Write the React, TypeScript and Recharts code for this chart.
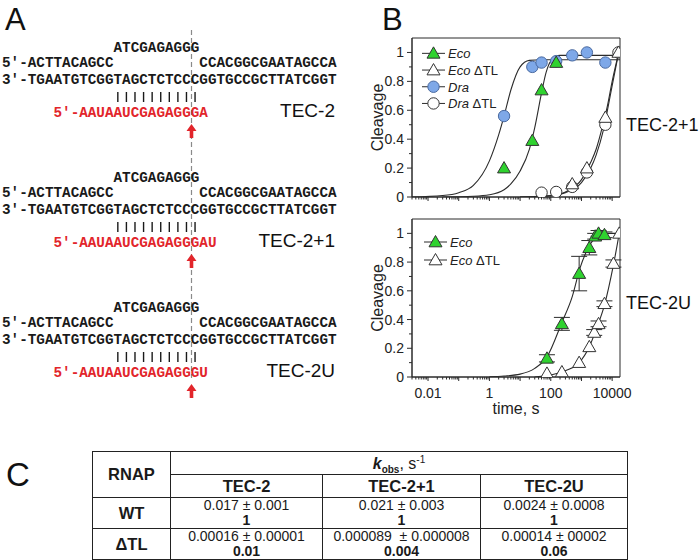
import React from 'react';
import { ComposedChart, Line, Scatter, XAxis, YAxis, ZAxis, ReferenceArea, ErrorBar, Legend } from 'recharts';

const FONT = '"Liberation Sans", Arial, Helvetica, sans-serif';
const MONO = '"Liberation Mono", "DejaVu Sans Mono", monospace';
const RED = '#e2252b';
const INK = '#2b2b2b';

// ---------- panel A: sequences ----------
const loopSeq = 'ATCGAGAGGG';
const ntLeft = '5′-ACTTACAGCC';
const ntRight = 'CCACGGCGAATAGCCA';
const tStrand = '3′-TGAATGTCGGTAGCTCTCCCGGTGCCGCTTATCGGT';
const rnaSeqs = ['5′-AAUAAUCGAGAGGGA', '5′-AAUAAUCGAGAGGGAU', '5′-AAUAAUCGAGAGGGU'];
const tecNames = ['TEC-2', 'TEC-2+1', 'TEC-2U'];

// ---------- panel B: TEC-2+1 ----------
const ecoT21 = [3, 25, 50, 150];
const ecoY21 = [0.2, 0.39, 0.74, 0.93];
const ecoTLT21 = [500, 1500, 6000, 16000];
const ecoTLY21 = [0.09, 0.2, 0.55, 1.0];
const draT21 = [3, 25, 50, 150, 500, 1500, 6000];
const draY21 = [0.56, 0.9, 0.93, 0.94, 0.98, 1.0, 0.93];
const draTLT21 = [50, 150, 500, 1500, 6000, 16000];
const draTLY21 = [0.03, 0.035, 0.07, 0.17, 0.5, 1.0];

const draFitT21 = [0.003, 0.03, 0.1, 0.3, 1, 2, 3, 5, 10, 20, 50, 18000];
const draFitY21 = [0, 0.01, 0.03, 0.08, 0.25, 0.43, 0.56, 0.74, 0.9, 0.945, 0.95, 0.95];
const ecoFitT21 = [0.03, 0.3, 1, 3, 5, 10, 20, 30, 50, 70, 100, 200, 18000];
const ecoFitY21 = [0, 0.005, 0.015, 0.05, 0.09, 0.18, 0.33, 0.48, 0.72, 0.86, 0.94, 0.98, 0.98];
const tlFitT21 = [10, 100, 300, 1000, 2000, 3000, 5000, 7000, 10000, 16000];
const ecoTLFitY21 = [0, 0.01, 0.035, 0.12, 0.24, 0.33, 0.5, 0.63, 0.8, 0.99];
const draTLFitY21 = [0, 0.008, 0.03, 0.1, 0.2, 0.29, 0.45, 0.6, 0.77, 0.99];

// ---------- panel B: TEC-2U ----------
const ecoT2U = [75, 230, 840, 1800, 2800, 3600, 5600];
const ecoY2U = [0.13, 0.37, 0.72, 0.9, 0.98, 1.0, 0.99];
const ecoE2U = [0.025, 0.045, 0.12, 0.05, 0.02, 0.02, 0.02];
const ecoTLT2U = [75, 230, 840, 1800, 2600, 3600, 5600, 11000, 17000];
const ecoTLY2U = [0.025, 0.035, 0.1, 0.21, 0.31, 0.37, 0.51, 0.79, 1.0];
const ecoTLE2U = [0, 0, 0, 0, 0.02, 0.02, 0.02, 0.025, 0];

const ecoFitT2U = [1, 3, 10, 30, 75, 230, 500, 900, 1500, 2000, 3000, 6000, 18000];
const ecoFitY2U = [0.002, 0.007, 0.02, 0.06, 0.14, 0.38, 0.56, 0.76, 0.88, 0.93, 0.975, 1.0, 1.0];
const ecoTLFitT2U = [30, 75, 230, 840, 1800, 3000, 5600, 11000, 17000];
const ecoTLFitY2U = [0, 0.01, 0.035, 0.1, 0.21, 0.33, 0.5, 0.78, 1.0];

// ---------- panel C ----------
const tableRows = ['WT', 'ΔTL'];
const kWT = ['0.017 ± 0.001', '0.021 ± 0.003', '0.0024 ± 0.0008'];
const relWT = ['1', '1', '1'];
const kTL = ['0.00016 ± 0.00001', '0.000089  ± 0.000008', '0.00014 ± 00002'];
const relTL = ['0.01', '0.004', '0.06'];

// axis ticks
const xDomain = [0.003, 18000];
const xLabelTicks = [0.01, 1, 100, 10000];
const xLabelText = ['0.01', '1', '100', '10000'];
const xTicks: number[] = [];
for (let d = -3; d <= 4; d++) {
  for (let m = 1; m <= 9; m++) {
    const v = +(m * Math.pow(10, d)).toPrecision(6);
    if (v >= xDomain[0] && v <= xDomain[1]) xTicks.push(v);
  }
}
const yTicks = [0, 0.1, 0.2, 0.3, 0.4, 0.5, 0.6, 0.7, 0.8, 0.9, 1.0];
const yLabelTicks = [0, 0.2, 0.4, 0.6, 0.8, 1.0];
const yLabelText = ['0', '0.2', '0.4', '0.6', '0.8', '1'];

const zip = (t: number[], y: number[], e?: number[]) =>
  t.map((v, i) => ({ t: v, y: y[i], e: e ? e[i] : 0 }));

const XTick = (p: any) => {
  const v = p.payload.value;
  const lg = Math.log10(v);
  const decade = Math.abs(lg - Math.round(lg)) < 1e-6;
  const li = xLabelTicks.findIndex((s) => Math.abs(s - v) / s < 1e-6);
  return (
    <g>
      <line x1={p.x} x2={p.x} y1={p.y} y2={p.y + (decade ? 4 : 2.5)} stroke={INK} strokeWidth={1} />
      {p.showLabel && li >= 0 && (
        <text x={p.x} y={p.y + 16} textAnchor="middle" dominantBaseline="central" fontSize={14} fontFamily={FONT} fill="#222">
          {xLabelText[li]}
        </text>
      )}
    </g>
  );
};

const YTick = (p: any) => {
  const v = p.payload.value;
  const li = yLabelTicks.findIndex((s) => Math.abs(s - v) < 1e-6);
  return (
    <g>
      <line x1={p.x - (li >= 0 ? 5 : 3)} x2={p.x} y1={p.y} y2={p.y} stroke={INK} strokeWidth={1} />
      {li >= 0 && (
        <text x={p.x - 8} y={p.y} textAnchor="end" dominantBaseline="central" fontSize={14} fontFamily={FONT} fill="#222">
          {yLabelText[li]}
        </text>
      )}
    </g>
  );
};

const triShape = (fill: string) => (p: any) => (
  <path
    d={`M${p.cx},${p.cy - 6.5}L${p.cx + 6.5},${p.cy + 4.8}L${p.cx - 6.5},${p.cy + 4.8}Z`}
    fill={fill}
    stroke="#333"
    strokeWidth={1}
  />
);
const circShape = (fill: string, stroke: string) => (p: any) => (
  <circle cx={p.cx} cy={p.cy} r={5.7} fill={fill} stroke={stroke} strokeWidth={1} />
);

const GREEN = '#2fd22f';
const BLUE = '#7ea8e8';
const ecoShape = triShape(GREEN);
const ecoTLShape = triShape('#fff');
const draShape = circShape(BLUE, '#4a6aa0');
const draTLShape = circShape('#fff', '#333');

type LegendItem = { name: string; tl: boolean; shape: (p: any) => React.ReactElement };

const LegendBox = ({ items, rowH }: { items: LegendItem[]; rowH: number }) => (
  <svg width={110} height={items.length * rowH} style={{ display: 'block', overflow: 'visible' }}>
    {items.map((it, i) => {
      const cy = rowH * i + rowH / 2;
      return (
        <g key={i}>
          <line x1={0} x2={23} y1={cy} y2={cy} stroke={INK} strokeWidth={1} />
          {it.shape({ cx: 11.5, cy })}
          <text x={26} y={cy} dominantBaseline="central" fontSize={13} fontFamily={FONT} fill="#222">
            <tspan fontStyle="italic">{it.name}</tspan>
            {it.tl ? ' ΔTL' : ''}
          </text>
        </g>
      );
    })}
  </svg>
);

const yLabel = (p: any) => {
  const vb = p.viewBox;
  const cx = vb.x - 3;
  const cy = vb.y + vb.height / 2;
  return (
    <text x={cx} y={cy} transform={`rotate(-90 ${cx} ${cy})`} textAnchor="middle" dominantBaseline="central" fontSize={16} fontFamily={FONT} fill="#222">
      Cleavage
    </text>
  );
};
const xLabel = (p: any) => {
  const vb = p.viewBox;
  return (
    <text x={vb.x + vb.width / 2} y={vb.y + 31} textAnchor="middle" dominantBaseline="central" fontSize={16} fontFamily={FONT} fill="#222">
      time, s
    </text>
  );
};

const fitLine = (key: string, data: any[]) => (
  <Line
    key={key}
    data={data}
    dataKey="y"
    type="monotone"
    dot={false}
    activeDot={false}
    stroke={INK}
    strokeWidth={1.1}
    isAnimationActive={false}
    legendType="none"
  />
);

const TopChart = () => (
  <ComposedChart width={280} height={190} margin={{ top: 18, right: 20, bottom: 0, left: 20 }}>
    <XAxis
      dataKey="t"
      type="number"
      scale="log"
      domain={xDomain}
      allowDataOverflow
      ticks={xTicks}
      interval={0}
      tickSize={0}
      tickMargin={0}
      height={13}
      stroke={INK}
      tick={(p: any) => <XTick {...p} showLabel={false} />}
    />
    <YAxis
      dataKey="y"
      type="number"
      domain={[0, 1.1]}
      allowDataOverflow
      ticks={yTicks}
      interval={0}
      tickSize={0}
      tickMargin={0}
      width={32}
      stroke={INK}
      tick={(p: any) => <YTick {...p} />}
      label={{ content: yLabel }}
    />
    <ZAxis type="number" range={[1, 1]} />
    <ReferenceArea x1={xDomain[0]} x2={xDomain[1]} y1={0} y2={1.1} fill="none" stroke={INK} strokeWidth={1} ifOverflow="visible" />
    {fitLine('draFit', zip(draFitT21, draFitY21))}
    {fitLine('ecoFit', zip(ecoFitT21, ecoFitY21))}
    {fitLine('ecoTLFit', zip(tlFitT21, ecoTLFitY21))}
    {fitLine('draTLFit', zip(tlFitT21, draTLFitY21))}
    <Scatter data={zip(draTLT21, draTLY21)} dataKey="y" shape={draTLShape} isAnimationActive={false} />
    <Scatter data={zip(ecoTLT21, ecoTLY21)} dataKey="y" shape={ecoTLShape} isAnimationActive={false} />
    <Scatter data={zip(draT21, draY21)} dataKey="y" shape={draShape} isAnimationActive={false} />
    <Scatter data={zip(ecoT21, ecoY21)} dataKey="y" shape={ecoShape} isAnimationActive={false} />
    <Legend
      layout="vertical"
      align="center"
      verticalAlign="middle"
      wrapperStyle={{ left: 62, top: 25, width: 'auto', height: 'auto' }}
      content={() => (
        <LegendBox
          rowH={16.7}
          items={[
            { name: 'Eco', tl: false, shape: ecoShape },
            { name: 'Eco', tl: true, shape: ecoTLShape },
            { name: 'Dra', tl: false, shape: draShape },
            { name: 'Dra', tl: true, shape: draTLShape },
          ]}
        />
      )}
    />
  </ComposedChart>
);

const BottomChart = () => (
  <ComposedChart width={280} height={217} margin={{ top: 19, right: 20, bottom: 0, left: 20 }}>
    <XAxis
      dataKey="t"
      type="number"
      scale="log"
      domain={xDomain}
      allowDataOverflow
      ticks={xTicks}
      interval={0}
      tickSize={0}
      tickMargin={0}
      height={40}
      stroke={INK}
      tick={(p: any) => <XTick {...p} showLabel />}
      label={{ content: xLabel }}
    />
    <YAxis
      dataKey="y"
      type="number"
      domain={[0, 1.1]}
      allowDataOverflow
      ticks={yTicks}
      interval={0}
      tickSize={0}
      tickMargin={0}
      width={32}
      stroke={INK}
      tick={(p: any) => <YTick {...p} />}
      label={{ content: yLabel }}
    />
    <ZAxis type="number" range={[1, 1]} />
    <ReferenceArea x1={xDomain[0]} x2={xDomain[1]} y1={0} y2={1.1} fill="none" stroke={INK} strokeWidth={1} ifOverflow="visible" />
    {fitLine('ecoFit', zip(ecoFitT2U, ecoFitY2U))}
    {fitLine('ecoTLFit', zip(ecoTLFitT2U, ecoTLFitY2U))}
    <Scatter data={zip(ecoTLT2U, ecoTLY2U, ecoTLE2U)} dataKey="y" shape={ecoTLShape} isAnimationActive={false}>
      <ErrorBar dataKey="e" direction="y" width={8} stroke={INK} strokeWidth={1} isAnimationActive={false} />
    </Scatter>
    <Scatter data={zip(ecoT2U, ecoY2U, ecoE2U)} dataKey="y" shape={ecoShape} isAnimationActive={false}>
      <ErrorBar dataKey="e" direction="y" width={8} stroke={INK} strokeWidth={1} isAnimationActive={false} />
    </Scatter>
    <Legend
      layout="vertical"
      align="center"
      verticalAlign="middle"
      wrapperStyle={{ left: 64, top: 33, width: 'auto', height: 'auto' }}
      content={() => (
        <LegendBox
          rowH={18}
          items={[
            { name: 'Eco', tl: false, shape: ecoShape },
            { name: 'Eco', tl: true, shape: ecoTLShape },
          ]}
        />
      )}
    />
  </ComposedChart>
);

// ---------- panel A drawing ----------
const CW = 8.58;
const colX = (c: number) => 2 + c * CW;
const blockY = [0, 130, 260];
const DASH_X = 191.5;

const seqText = (key: string, x: number, y: number, s: string, fill = '#1a1a1a') => (
  <text key={key} x={x} y={y} fontFamily={MONO} fontWeight="bold" fontSize={14.3} fill={fill} dominantBaseline="central" xmlSpace="preserve">
    {s}
  </text>
);

const PanelA = () => (
  <g>
    <line x1={DASH_X} x2={DASH_X} y1={30} y2={378} stroke="#8a8a8a" strokeWidth={1.2} strokeDasharray="5 3" />
    {rnaSeqs.map((rna, b) => {
      const oy = blockY[b];
      const ay = 124 + oy;
      return (
        <g key={b}>
          {seqText('l', colX(13), 48 + oy, loopSeq)}
          {seqText('nl', colX(0), 63 + oy, ntLeft)}
          {seqText('nr', colX(23), 63 + oy, ntRight)}
          {seqText('t', colX(0), 80 + oy, tStrand)}
          {Array.from({ length: 10 }).map((_, i) => (
            <line key={i} x1={colX(13 + i + 0.5)} x2={colX(13 + i + 0.5)} y1={92 + oy} y2={102 + oy} stroke="#1a1a1a" strokeWidth={1.4} />
          ))}
          {seqText('r', colX(6), 113 + oy, rna, RED)}
          <path
            d={`M${DASH_X},${ay}L${DASH_X + 5},${ay + 7}L${DASH_X + 1.8},${ay + 7}L${DASH_X + 1.8},${ay + 14}L${DASH_X - 1.8},${ay + 14}L${DASH_X - 1.8},${ay + 7}L${DASH_X - 5},${ay + 7}Z`}
            fill={RED}
          />
          <text x={335} y={110 + oy} textAnchor="end" dominantBaseline="central" fontFamily={FONT} fontSize={19} fill="#111">
            {tecNames[b]}
          </text>
        </g>
      );
    })}
  </g>
);

const cell: React.CSSProperties = {
  border: '1.5px solid #222',
  padding: 0,
  textAlign: 'center',
  verticalAlign: 'middle',
  lineHeight: '15px',
};

const Table = () => (
  <table
    style={{
      position: 'absolute',
      left: 92,
      top: 451,
      width: 535,
      borderCollapse: 'collapse',
      tableLayout: 'fixed',
      fontFamily: FONT,
      color: '#1a1a1a',
      fontSize: 14,
    }}
  >
    <colgroup>
      <col style={{ width: 78 }} />
      <col style={{ width: 152 }} />
      <col style={{ width: 158 }} />
      <col style={{ width: 147 }} />
    </colgroup>
    <tbody>
      <tr style={{ height: 23 }}>
        <td rowSpan={2} style={{ ...cell, fontWeight: 'bold', fontSize: 16.5 }}>RNAP</td>
        <td colSpan={3} style={{ ...cell, fontSize: 16 }}>
          <b><i>k</i></b>
          <sub style={{ fontSize: 10, fontWeight: 'bold', lineHeight: 0 }}>obs</sub>, s<sup style={{ fontSize: 10, lineHeight: 0 }}>-1</sup>
        </td>
      </tr>
      <tr style={{ height: 23 }}>
        {tecNames.map((n) => (
          <td key={n} style={{ ...cell, fontWeight: 'bold', fontSize: 16.5 }}>{n}</td>
        ))}
      </tr>
      {tableRows.map((r, ri) => {
        const ks = ri === 0 ? kWT : kTL;
        const rel = ri === 0 ? relWT : relTL;
        return (
          <tr key={r} style={{ height: 30 }}>
            <td style={{ ...cell, fontWeight: 'bold', fontSize: 16.5 }}>{r}</td>
            {ks.map((k, i) => (
              <td key={i} style={cell}>
                <div style={{ whiteSpace: 'pre' }}>{k}</div>
                <div style={{ fontWeight: 'bold' }}>{rel[i]}</div>
              </td>
            ))}
          </tr>
        );
      })}
    </tbody>
  </table>
);

export default function App() {
  return (
    <div style={{ position: 'absolute', left: 0, top: 0, width: 700, height: 560, background: '#fff', overflow: 'hidden' }}>
      <div style={{ position: 'absolute', left: 360, top: 20 }}>
        <TopChart />
      </div>
      <div style={{ position: 'absolute', left: 360, top: 200 }}>
        <BottomChart />
      </div>
      <svg width={700} height={560} style={{ position: 'absolute', left: 0, top: 0, pointerEvents: 'none' }}>
        <PanelA />
        <text x={5} y={30} fontFamily={FONT} fontSize={31} fill="#111">A</text>
        <text x={382} y={30} fontFamily={FONT} fontSize={31} fill="#111">B</text>
        <text x={6} y={486} fontFamily={FONT} fontSize={33} fill="#111">C</text>
        <text x={626} y={125} dominantBaseline="central" fontFamily={FONT} fontSize={18} fill="#111">TEC-2+1</text>
        <text x={626} y={303} dominantBaseline="central" fontFamily={FONT} fontSize={18} fill="#111">TEC-2U</text>
      </svg>
      <Table />
    </div>
  );
}
